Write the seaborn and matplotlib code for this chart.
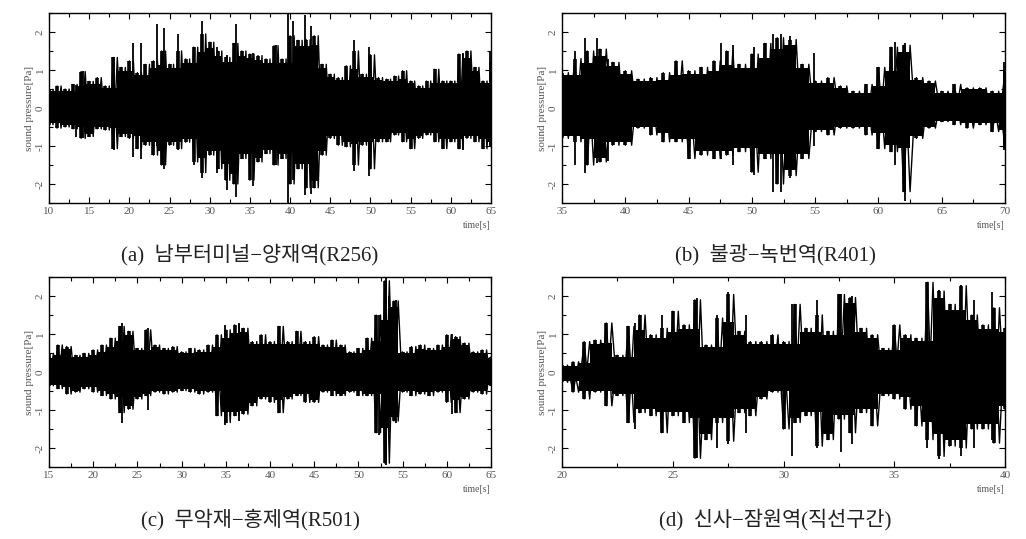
import numpy as np
import pandas as pd
import matplotlib
matplotlib.use("Agg")
import matplotlib.pyplot as plt
import seaborn as sns
from matplotlib.ticker import MultipleLocator

# ---- data: envelope of the pressure signal ----
# (a) 남부터미널-양재역, 1 s steps, 10..65 s
t_a = np.arange(10, 66, 1.0)
up_a = [0.49, 0.58, 0.50, 0.62, 0.96, 0.70, 0.80, 0.58, 1.33, 1.07,
        1.24, 0.93, 1.15, 1.24, 1.50, 1.15, 1.50, 1.29, 1.60, 1.95,
        1.73, 1.50, 1.33, 1.70, 1.50, 1.42, 1.38, 1.29, 1.64, 1.29,
        1.90, 1.78, 1.80, 1.90, 1.15, 0.89, 0.80, 1.11, 1.50, 0.89,
        1.40, 0.80, 0.76, 0.84, 0.98, 0.71, 0.58, 0.71, 1.02, 0.71,
        0.71, 1.42, 1.50, 1.07, 0.71, 1.20]
lo_a = [-0.44, -0.53, -0.50, -0.55, -0.80, -0.75, -0.55, -0.58, -1.07, -0.75,
        -0.80, -1.07, -0.98, -1.24, -1.50, -0.98, -1.07, -0.90, -1.42, -1.70,
        -1.24, -1.60, -1.90, -2.00, -1.33, -1.90, -1.42, -1.20, -1.50, -1.33,
        -2.00, -1.60, -2.10, -2.10, -1.24, -0.80, -0.98, -1.02, -1.50, -0.98,
        -1.60, -0.89, -0.89, -0.71, -0.89, -1.07, -0.80, -0.71, -0.89, -1.07,
        -0.89, -1.07, -0.80, -0.89, -1.07, -0.98]
sp_t_a = [13.3, 14.2, 18.1, 20.4, 21.4, 23.5, 24.3, 26.0, 28.0, 29.0, 30.9, 32.1,
          33.3, 35.4, 38.2, 39.7, 40.3, 41.9, 42.6, 48.0, 49.8, 61.5, 64.9]
sp_hi_a = [0.60, 0.98, 1.35, 1.70, 1.70, 2.20, 2.10, 1.95, 1.60, 2.30, 1.60, 1.40,
           2.20, 1.45, 1.65, 2.50, 2.30, 2.45, 2.15, 1.80, 1.60, 1.45, 1.50]
sp_lo_a = [-0.75, -0.80, -1.10, -1.30, -1.35, -1.00, -1.60, -1.10, -1.50, -1.85, -1.70, -2.15,
           -2.35, -2.05, -1.50, -2.50, -1.90, -2.30, -2.25, -1.65, -1.80, -1.10, -1.00]

# (b) 불광-녹번역, 1 s steps, 35..70 s
t_b = np.arange(35, 71, 1.0)
up_b = [0.93, 1.30, 1.50, 1.55, 1.20, 0.98, 0.76, 0.80, 0.93, 1.24,
        0.98, 1.07, 1.24, 1.50, 1.15, 1.42, 1.70, 1.85, 1.80, 1.15,
        0.71, 0.80, 0.58, 0.44, 0.62, 1.07, 1.60, 1.65, 0.80, 0.71,
        0.44, 0.62, 0.53, 0.53, 0.44, 1.00]
lo_b = [-0.80, -0.89, -1.50, -1.42, -0.98, -0.98, -0.53, -0.71, -0.89, -0.89,
        -1.33, -1.24, -1.33, -1.24, -1.15, -1.69, -1.33, -2.00, -1.78, -1.33,
        -0.62, -0.71, -0.53, -0.53, -0.71, -1.07, -1.15, -2.20, -0.80, -0.53,
        -0.36, -0.44, -0.53, -0.44, -0.62, -1.05]
sp_t_b = [36.0, 36.8, 37.8, 38.6, 47.6, 48.5, 50.2, 51.7, 52.3, 53.0, 54.9, 61.3, 62.1, 69.9]
sp_hi_b = [1.50, 1.85, 1.85, 1.30, 1.70, 1.65, 1.60, 1.95, 1.95, 1.90, 1.45, 1.75, 1.70, 1.20]
sp_lo_b = [-1.50, -1.70, -1.45, -1.40, -1.35, -1.50, -1.75, -2.20, -2.20, -1.85, -1.00, -1.50, -2.45, -1.10]

# (c) 무악재-홍제역, 1 s steps, 15..65 s
t_c = np.arange(15, 66, 1.0)
up_c = [0.49, 0.71, 0.67, 0.44, 0.49, 0.58, 0.71, 0.89, 1.20, 1.07,
        0.62, 1.11, 0.71, 0.62, 0.67, 0.53, 0.62, 0.58, 0.71, 0.98,
        1.11, 1.24, 1.15, 0.80, 0.98, 0.80, 1.20, 0.80, 1.07, 0.80,
        0.93, 0.71, 0.84, 0.71, 0.53, 0.62, 0.89, 1.50, 2.40, 1.87,
        0.53, 0.67, 0.71, 0.62, 0.71, 0.98, 0.93, 0.76, 0.53, 0.58,
        0.40]
lo_c = [-0.36, -0.44, -0.58, -0.53, -0.44, -0.53, -0.62, -0.71, -1.07, -0.98,
        -0.71, -0.62, -0.53, -0.58, -0.53, -0.49, -0.53, -0.58, -0.53, -1.15,
        -1.33, -1.15, -1.11, -0.89, -0.71, -0.80, -1.07, -0.71, -0.62, -0.80,
        -0.80, -0.53, -0.62, -0.62, -0.53, -0.62, -0.62, -1.60, -2.40, -1.29,
        -0.53, -0.62, -0.58, -0.62, -0.53, -0.80, -1.07, -0.71, -0.53, -0.58,
        -0.36]
sp_t_c = [23.3, 26.2, 34.9, 36.5, 52.3, 53.1, 53.5, 54.2, 60.6]
sp_hi_c = [1.30, 1.15, 1.25, 1.30, 1.50, 2.50, 2.00, 1.90, 1.00]
sp_lo_c = [-1.35, -1.00, -1.40, -1.30, -1.65, -2.45, -1.60, -1.35, -1.10]

# (d) 신사-잠원역(직선구간), 0.5 s steps, 20..40 s
t_d = np.arange(20, 40.5, 0.5)
up_d = [0.18, 0.27, 0.80, 0.84, 1.29, 0.44, 1.20, 1.50, 0.98, 1.15,
        1.60, 1.24, 1.90, 0.71, 1.42, 2.04, 1.07, 0.80, 0.80, 0.98,
        0.80, 1.78, 1.15, 1.50, 1.07, 2.04, 1.96, 1.15, 0.98, 0.62,
        1.24, 0.98, 0.89, 2.36, 2.13, 1.78, 2.27, 1.50, 1.24, 1.69,
        1.15]
lo_d = [-0.27, -0.53, -0.71, -0.53, -0.89, -0.62, -1.33, -1.07, -1.15, -1.60,
        -1.15, -1.33, -2.27, -1.78, -1.33, -1.82, -1.07, -1.15, -0.71, -0.53,
        -1.50, -1.33, -1.15, -1.95, -1.78, -1.24, -1.60, -1.07, -1.42, -0.62,
        -0.71, -0.98, -1.42, -1.78, -2.22, -1.95, -2.00, -1.50, -1.50, -1.87,
        -0.98]
sp_t_d = [23.3, 24.5, 26.1, 27.0, 27.5, 28.3, 30.4, 31.5, 32.6, 33.1, 36.5, 37.0, 38.0, 38.6, 39.4]
sp_hi_d = [1.30, 1.50, 1.95, 1.50, 2.10, 1.50, 1.80, 1.90, 2.05, 2.00, 2.35, 2.15, 2.30, 1.90, 2.10]
sp_lo_d = [-1.50, -1.60, -2.25, -2.00, -1.90, -1.60, -2.20, -2.00, -2.10, -1.90, -2.00, -2.30, -2.20, -2.00, -1.80]

captions = ["(a)  남부터미널−양재역(R256)", "(b)  불광−녹번역(R401)",
            "(c)  무악재−홍제역(R501)", "(d)  신사−잠원역(직선구간)"]
xlims = [(10, 65), (35, 70), (15, 65), (20, 40)]

panels = [(t_a, up_a, lo_a, sp_t_a, sp_hi_a, sp_lo_a),
          (t_b, up_b, lo_b, sp_t_b, sp_hi_b, sp_lo_b),
          (t_c, up_c, lo_c, sp_t_c, sp_hi_c, sp_lo_c),
          (t_d, up_d, lo_d, sp_t_d, sp_hi_d, sp_lo_d)]

sns.set_theme(style="ticks")
plt.rcParams["font.family"] = ["Liberation Serif", "DejaVu Serif"]
plt.rcParams["axes.unicode_minus"] = False

W, H = 1026, 539
fig = plt.figure(figsize=(W / 100, H / 100), dpi=100)

# axes boxes in pixels: left, top, right, bottom
boxes = [(49, 13, 491, 203), (562, 13, 1005, 203),
         (49, 277, 491, 467), (562, 277, 1005, 467)]
cap_pos = [(250, 255), (775, 255), (250, 520), (775, 520)]

grey = "#555555"
for i, (t, up, lo, st, shi, slo) in enumerate(panels):
    l, tp, r, b = boxes[i]
    ax = fig.add_axes([l / W, 1 - b / H, (r - l) / W, (b - tp) / H])
    df = pd.DataFrame({"time": t, "upper": up, "lower": lo})
    step = t[1] - t[0]

    # zig-zag trace between the envelope values (two interleaved passes)
    zz_t = np.column_stack([t, t + step / 2]).ravel()
    zz1 = np.column_stack([up, lo]).ravel()
    zz2 = np.column_stack([lo, up]).ravel()
    zz = pd.DataFrame({"time": np.concatenate([zz_t, zz_t]),
                       "p": np.concatenate([zz1, zz2]),
                       "pass": ["a"] * len(zz_t) + ["b"] * len(zz_t)})
    sns.lineplot(data=zz, x="time", y="p", units="pass", estimator=None,
                 ax=ax, color="black", lw=1.0, sort=False)
    ax.vlines(df["time"], df["lower"], df["upper"], color="black", lw=2.6)
    # the tall needles
    ax.vlines(st, slo, shi, color="black", lw=1.3)
    # solid core: the lower of each pair of neighbouring envelope values
    core = pd.DataFrame({"time": t, "hi": np.minimum(up, np.roll(up, 1)),
                         "lo": np.maximum(lo, np.roll(lo, 1))})
    ax.fill_between(core["time"], core["lo"] * 0.92, core["hi"] * 0.92,
                    step="mid", color="black", lw=0)

    ax.set_xlim(*xlims[i])
    ax.set_ylim(-2.5, 2.5)
    ax.set_xlabel("")
    ax.set_ylabel("sound pressure[Pa]", fontsize=8, color=grey, labelpad=1)
    ax.xaxis.set_major_locator(MultipleLocator(5))
    ax.xaxis.set_minor_locator(MultipleLocator(2.5))
    ax.yaxis.set_major_locator(MultipleLocator(1))
    ax.yaxis.set_minor_locator(MultipleLocator(0.5))
    ax.tick_params(which="both", direction="in", top=True, right=True,
                   colors="black", labelcolor=grey, labelsize=8, width=0.8)
    ax.tick_params(which="major", length=4, pad=3)
    ax.tick_params(which="minor", length=3)
    for lab in ax.get_yticklabels():
        lab.set_rotation(90)
        lab.set_va("center")
    for s in ax.spines.values():
        s.set_linewidth(1.0)
        s.set_color("black")
    ax.text(1.0, -0.095, "time[s]", transform=ax.transAxes, ha="right",
            va="top", fontsize=7, color=grey)
    cx, cy = cap_pos[i]
    fig.text(cx / W, 1 - cy / H, captions[i], ha="center", va="center",
             fontsize=15, color="#222222",
             family=["Liberation Serif", "Noto Sans CJK KR"])

fig.savefig("out.png", dpi=100)
